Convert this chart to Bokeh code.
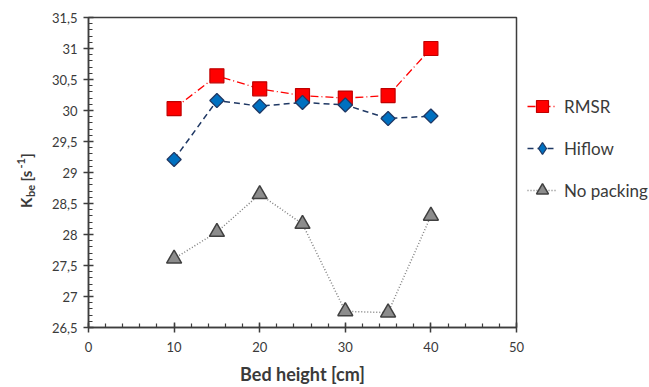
import math
from bokeh.plotting import figure
from bokeh.layouts import row
from bokeh.models import (Range1d, FixedTicker, CustomJSTickFormatter, Legend,
                          LegendItem)
from bokeh.core.properties import value
from bokeh.embed import file_html
from bokeh.resources import INLINE

# ---- data ----
bed_height = [10, 15, 20, 25, 30, 35, 40]
rmsr = [30.03, 30.56, 30.35, 30.24, 30.20, 30.24, 31.00]
hiflow = [29.21, 30.16, 30.07, 30.13, 30.09, 29.87, 29.91]
no_packing = [27.61, 28.04, 28.65, 28.17, 26.76, 26.74, 28.30]

x_ticks = [0, 10, 20, 30, 40, 50]
y_ticks = [26.5, 27, 27.5, 28, 28.5, 29, 29.5, 30, 30.5, 31, 31.5]
series_names = ["RMSR", "Hiflow", "No packing"]
x_label = "Bed height [cm]"
# y label "K_be [s^-1]" split in normal / subscript / superscript parts
y_label_parts = ["K", "be", "[s", "-1", "]"]

FONT = "Lato"
TXT = "#3a3a3a"
W, H = 649, 387
LW = 44                              # width of the y-title strip
FL, FR, FT, FB = 88, 516, 17, 327   # frame edges in page px
X0, X1, Y0, Y1 = 0, 50, 26.5, 31.5
AX = "#3d3d3d"

# ---------- y title strip (its frame is aligned with the main frame) ----------
t = figure(width=LW, height=H, output_backend="svg", toolbar_location=None,
           x_range=Range1d(0, LW), y_range=Range1d(FB, FT),
           x_axis_location=None, y_axis_location=None,
           min_border_left=0, min_border_right=0,
           min_border_top=FT, min_border_bottom=H - FB, outline_line_color=None)
t.xgrid.visible = False
t.ygrid.visible = False
# (part, start y along text, baseline x, font size) in page pixels
layout_parts = [(y_label_parts[0], 207.5, 25.5, "15px"),
                (y_label_parts[1], 196.5, 29.5, "11px"),
                (y_label_parts[2], 181.0, 25.5, "15px"),
                (y_label_parts[3], 168.0, 20.0, "11px"),
                (y_label_parts[4], 157.5, 25.5, "15px")]
for txt, sy, sx, fs in layout_parts:
    t.text(x=[sx], y=[sy], text=[txt], angle=math.pi / 2,
           text_font=value(FONT), text_font_size=fs, text_font_style="bold",
           text_align="left", text_baseline="alphabetic", text_color=TXT)

# ---------- main chart ----------
p = figure(frame_width=FR - FL, frame_height=FB - FT,
           output_backend="svg", toolbar_location=None,
           x_range=Range1d(X0, X1), y_range=Range1d(Y0, Y1),
           min_border_left=FL - LW, min_border_right=W - FR,
           min_border_top=FT, min_border_bottom=H - FB)
p.xgrid.visible = False
p.ygrid.visible = False
p.outline_line_color = AX
p.outline_line_width = 1.5

fmt = CustomJSTickFormatter(code="return (Math.round(tick*10)/10).toString().replace('.', ',');")

p.xaxis.ticker = FixedTicker(ticks=x_ticks, minor_ticks=list(range(0, 51, 2)))
p.yaxis.ticker = FixedTicker(ticks=y_ticks,
                             minor_ticks=[round(26.5 + 0.1 * i, 1) for i in range(51)])
for ax in (p.xaxis[0], p.yaxis[0]):
    ax.formatter = fmt
    ax.axis_line_color = AX
    ax.axis_line_width = 1.5
    ax.major_tick_line_color = AX
    ax.major_tick_line_width = 1.5
    ax.minor_tick_line_color = AX
    ax.minor_tick_line_width = 1.2
    ax.major_tick_in = 5
    ax.major_tick_out = 5
    ax.minor_tick_in = 4
    ax.minor_tick_out = 0
    ax.major_label_text_font = FONT
    ax.major_label_text_font_size = "13px"
    ax.major_label_text_color = TXT
p.xaxis.major_label_standoff = 9
p.yaxis.major_label_standoff = 6
p.xaxis.axis_label = x_label
p.xaxis.axis_label_text_font = FONT
p.xaxis.axis_label_text_font_size = "18px"
p.xaxis.axis_label_text_font_style = "bold"
p.xaxis.axis_label_text_color = TXT
p.xaxis.axis_label_standoff = 8

# ---- series ----
r1l = p.line(bed_height, rmsr, line_color="#ff0000", line_width=1.3, line_dash="8 3 1 3")
r1m = p.scatter(bed_height, rmsr, marker="square", size=14, fill_color="#ff0000",
                line_color="#c00000", line_width=1.2)
r2l = p.line(bed_height, hiflow, line_color="#1f3864", line_width=1.5, line_dash="6 4")
r2m = p.scatter(bed_height, hiflow, marker="square", angle=math.pi / 4, size=10,
                fill_color="#0070c0", line_color="#1f3864", line_width=1.3)
r3l = p.line(bed_height, no_packing, line_color="#808080", line_width=1.5, line_dash="1 2")
r3m = p.scatter(bed_height, no_packing, marker="triangle", size=15, fill_color="#8c8c8c",
                line_color="#404040", line_width=1.5)
# legend-only diamond (the legend does not rotate markers); hidden in the plot
r2k = p.scatter(bed_height, hiflow, marker="diamond", size=10, fill_color="#0070c0",
                line_color="#1f3864", line_width=1.3, visible=False)

legend = Legend(items=[LegendItem(label=series_names[0], renderers=[r1l, r1m]),
                       LegendItem(label=series_names[1], renderers=[r2l, r2k]),
                       LegendItem(label=series_names[2], renderers=[r3l, r3m])],
                location=(11, 120), orientation="vertical",
                glyph_width=30, glyph_height=34, label_height=34,
                label_standoff=7, spacing=8, padding=0, margin=0,
                border_line_color=None, background_fill_alpha=0,
                inactive_fill_alpha=0,
                label_text_font=FONT, label_text_font_size="17px",
                label_text_color=TXT)
p.add_layout(legend, "right")

open("out.html", "w").write(file_html(row(t, p, spacing=0), INLINE))
